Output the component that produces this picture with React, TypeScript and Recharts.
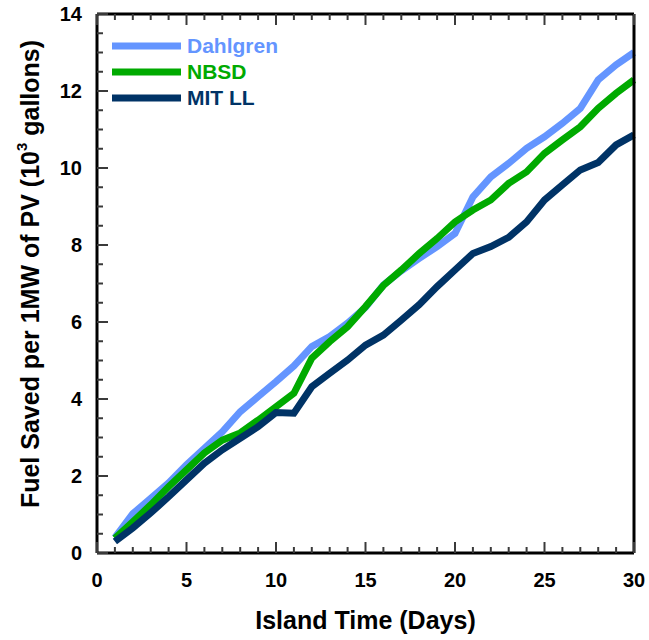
import { LineChart, Line, XAxis, YAxis, Legend } from 'recharts';

const days = [1, 2, 3, 4, 5, 6, 7, 8, 9, 10, 11, 12, 13, 14, 15, 16, 17, 18, 19, 20, 21, 22, 23, 24, 25, 26, 27, 28, 29, 30];
const dahlgren = [0.4, 1.02, 1.42, 1.82, 2.29, 2.72, 3.15, 3.67, 4.06, 4.45, 4.86, 5.36, 5.62, 5.97, 6.38, 6.96, 7.33, 7.65, 7.96, 8.3, 9.25, 9.77, 10.12, 10.51, 10.81, 11.16, 11.55, 12.29, 12.68, 13.0];
const nbsd = [0.38, 0.81, 1.25, 1.72, 2.16, 2.6, 2.93, 3.12, 3.45, 3.8, 4.15, 5.06, 5.49, 5.88, 6.4, 6.95, 7.35, 7.78, 8.17, 8.6, 8.91, 9.17, 9.6, 9.9, 10.38, 10.73, 11.07, 11.55, 11.94, 12.29];
const mitll = [0.3, 0.65, 1.04, 1.46, 1.9, 2.33, 2.68, 2.98, 3.28, 3.65, 3.63, 4.32, 4.67, 5.01, 5.4, 5.66, 6.05, 6.45, 6.92, 7.35, 7.78, 7.96, 8.2, 8.6, 9.17, 9.56, 9.95, 10.14, 10.6, 10.86];

const xTicks = Array.from({ length: 31 }, (_, i) => i);
const yTicks = Array.from({ length: 29 }, (_, i) => i * 0.5);

const data = days.map((d, i) => ({ day: d, dahlgren: dahlgren[i], nbsd: nbsd[i], mitll: mitll[i] }));

const W = 649;
const H = 640;
const LEFT = 97;
const RIGHT = 634;
const TOP = 14;
const BOTTOM = 553;

const FONT = '"Liberation Sans", Arial, sans-serif';
const TICK_COLOR = '#3a3a3a';
const TICK_W = 2;

// ticks point inward, major ones are longer
function bottomTick(props: any) {
  const { x, payload } = props;
  const v = payload.value;
  const major = v % 5 === 0;
  return (
    <g>
      <path d={`M${x},${BOTTOM}V${BOTTOM - (major ? 11 : 6)}`} stroke={TICK_COLOR} strokeWidth={TICK_W} fill="none" />
      {major && (
        <text x={x} y={BOTTOM + 27} textAnchor="middle" dominantBaseline="central" fontFamily={FONT} fontWeight="bold" fontSize={20} fill="#000">
          {v}
        </text>
      )}
    </g>
  );
}

function topTick(props: any) {
  const { x, payload } = props;
  const major = payload.value % 5 === 0;
  return <path d={`M${x},${TOP}V${TOP + (major ? 11 : 6)}`} stroke={TICK_COLOR} strokeWidth={TICK_W} fill="none" />;
}

function leftTick(props: any) {
  const { y, payload } = props;
  const v = payload.value;
  const major = v % 2 === 0;
  return (
    <g>
      <path d={`M${LEFT},${y}H${LEFT + (major ? 11 : 6)}`} stroke={TICK_COLOR} strokeWidth={TICK_W} fill="none" />
      {major && (
        <text x={LEFT - 15} y={y} textAnchor="end" dominantBaseline="central" fontFamily={FONT} fontWeight="bold" fontSize={20} fill="#000">
          {v}
        </text>
      )}
    </g>
  );
}

function rightTick(props: any) {
  const { y, payload } = props;
  const major = payload.value % 2 === 0;
  return <path d={`M${RIGHT},${y}H${RIGHT - (major ? 11 : 6)}`} stroke={TICK_COLOR} strokeWidth={TICK_W} fill="none" />;
}

const series = [
  { key: 'dahlgren', name: 'Dahlgren', color: '#6495FF' },
  { key: 'nbsd', name: 'NBSD', color: '#00AA00' },
  { key: 'mitll', name: 'MIT LL', color: '#003366' },
];

const LegendBox = () => (
  <div>
    {series.map((s) => (
      <div key={s.key} style={{ display: 'flex', alignItems: 'center', height: 26 }}>
        <svg width={69} height={10} style={{ marginRight: 6 }}>
          <line x1={0} x2={69} y1={5} y2={5} stroke={s.color} strokeWidth={7} />
        </svg>
        <span style={{ fontFamily: FONT, fontWeight: 'bold', fontSize: 21, color: s.color }}>{s.name}</span>
      </div>
    ))}
  </div>
);

export default function App() {
  const axisLine = { stroke: '#000', strokeWidth: 3 };
  return (
    <div style={{ position: 'absolute', left: 0, top: 0, width: W, height: H, background: '#fff' }}>
      <LineChart width={W} height={H} data={data} margin={{ top: TOP - 1, right: W - RIGHT - 1, bottom: 0, left: 0 }}>
        <XAxis dataKey="day" type="number" domain={[0, 30]} ticks={xTicks} interval={0} tick={bottomTick} tickLine={false} axisLine={axisLine} height={H - BOTTOM} />
        <XAxis xAxisId="top" dataKey="day" orientation="top" type="number" domain={[0, 30]} ticks={xTicks} interval={0} tick={topTick} tickLine={false} axisLine={axisLine} height={1} />
        <YAxis type="number" domain={[0, 14]} ticks={yTicks} interval={0} tick={leftTick} tickLine={false} axisLine={axisLine} width={LEFT} />
        <YAxis yAxisId="right" orientation="right" type="number" domain={[0, 14]} ticks={yTicks} interval={0} tick={rightTick} tickLine={false} axisLine={axisLine} width={1} />
        <Legend layout="vertical" align="center" verticalAlign="middle" content={<LegendBox />} wrapperStyle={{ left: 112, top: 33, width: 'auto' }} />
        {series.map((s) => (
          <Line key={s.key} dataKey={s.key} name={s.name} stroke={s.color} strokeWidth={7} dot={false} type="linear" isAnimationActive={false} />
        ))}
        <text x={(LEFT + RIGHT) / 2} y={620} textAnchor="middle" dominantBaseline="central" fontFamily={FONT} fontWeight="bold" fontSize={25} fill="#000">
          Island Time (Days)
        </text>
        <text x={30} y={274} transform="rotate(-90 30 274)" textAnchor="middle" dominantBaseline="central" fontFamily={FONT} fontWeight="bold" fontSize={25} fill="#000">
          Fuel Saved per 1MW of PV (10<tspan dy={-9} fontSize={15}>3</tspan><tspan dy={9}> gallons)</tspan>
        </text>
      </LineChart>
    </div>
  );
}
